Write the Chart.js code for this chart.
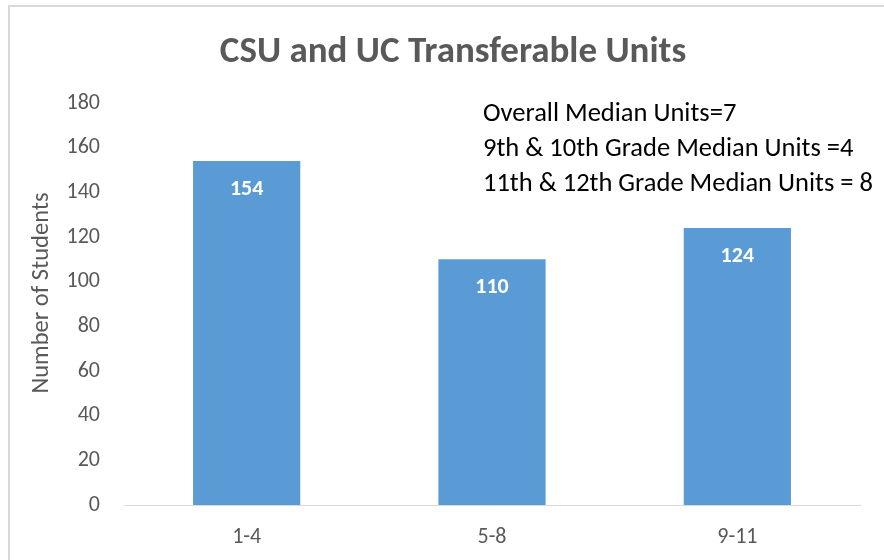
<!DOCTYPE html>
<html>
<head>
<meta charset="utf-8">
<script src="https://cdn.jsdelivr.net/npm/chart.js@4.4.1/dist/chart.umd.min.js"></script>
<style>
  html, body { margin: 0; padding: 0; background: #fff; }
  #wrap { width: 884px; height: 560px; }
</style>
</head>
<body>
<div id="wrap"><canvas id="unitsChart" width="884" height="560"></canvas></div>
<script>
// data
const unitRanges = ["1-4", "5-8", "9-11"];
const studentCounts = [154, 110, 124];
const yTicks = [0, 20, 40, 60, 80, 100, 120, 140, 160, 180];
const chartTitle = "CSU and UC Transferable Units";
const yTitle = "Number of Students";
const medianNotes = [
  "Overall Median Units=7",
  "9th & 10th Grade Median Units =4",
  "11th & 12th Grade Median Units = 8",
];

const FONT = "Carlito, Lato, 'Open Sans', sans-serif";
const GREY = "#595959";

// white background, grey frame, title and the y axis title
const framePlugin = {
  id: "frame",
  beforeDraw(chart) {
    const ctx = chart.ctx;
    ctx.save();
    ctx.fillStyle = "#fff";
    ctx.fillRect(0, 0, chart.width, chart.height);
    ctx.fillStyle = "#d9d9d9";
    ctx.fillRect(8, 5, chart.width - 8, 2);
    ctx.fillRect(8, 5, 2, chart.height - 5);

    ctx.fillStyle = GREY;
    ctx.font = "bold 37px " + FONT;
    ctx.textAlign = "center";
    ctx.textBaseline = "alphabetic";
    ctx.fillText(chartTitle, 453, 62);

    // axis title sits a bit above the plot centre in the original
    ctx.translate(42, 293);
    ctx.rotate(-Math.PI / 2);
    ctx.font = "24.5px " + FONT;
    ctx.textBaseline = "middle";
    ctx.fillText(yTitle, 0, 0);
    ctx.restore();
  },
};

// value labels inside the top of each bar
const barLabels = {
  id: "barLabels",
  afterDatasetsDraw(chart) {
    const ctx = chart.ctx;
    const meta = chart.getDatasetMeta(0);
    ctx.save();
    ctx.fillStyle = "#fff";
    ctx.font = "bold 22px " + FONT;
    ctx.textAlign = "center";
    ctx.textBaseline = "middle";
    meta.data.forEach((bar, i) => {
      ctx.fillText(String(studentCounts[i]), bar.x, bar.y + 28);
    });
    ctx.restore();
  },
};

// the median text box in the upper right
const notesPlugin = {
  id: "notes",
  afterDraw(chart) {
    const ctx = chart.ctx;
    ctx.save();
    ctx.fillStyle = "#000";
    ctx.font = "26.5px " + FONT;
    ctx.textAlign = "left";
    ctx.textBaseline = "alphabetic";
    medianNotes.forEach((line, i) => {
      ctx.fillText(line, 483, 121 + i * 35);
    });
    ctx.restore();
  },
};

new Chart(document.getElementById("unitsChart"), {
  type: "bar",
  data: {
    labels: unitRanges,
    datasets: [
      {
        data: studentCounts,
        backgroundColor: "#5b9bd5",
        borderWidth: 0,
        categoryPercentage: 1,
        barPercentage: 0.437,
      },
    ],
  },
  options: {
    responsive: false,
    animation: false,
    devicePixelRatio: 1,
    layout: { padding: { left: 0, right: 24, top: 103, bottom: 0 } },
    plugins: {
      legend: { display: false },
      tooltip: { enabled: false },
      title: { display: false },
    },
    scales: {
      x: {
        grid: { display: false, drawTicks: false },
        border: { display: true, color: "#d9d9d9", width: 1 },
        ticks: {
          color: GREY,
          font: { family: FONT, size: 22 },
          padding: 19,
        },
        afterFit(scale) {
          scale.height = 55;
        },
      },
      y: {
        min: 0,
        max: 180,
        afterBuildTicks(scale) {
          scale.ticks = yTicks.map((v) => ({ value: v }));
        },
        grid: { display: false, drawTicks: false },
        border: { display: false },
        ticks: {
          color: GREY,
          font: { family: FONT, size: 22 },
          padding: 24,
        },
        afterFit(scale) {
          scale.width = 124;
        },
      },
    },
  },
  plugins: [framePlugin, barLabels, notesPlugin],
});
</script>
</body>
</html>
